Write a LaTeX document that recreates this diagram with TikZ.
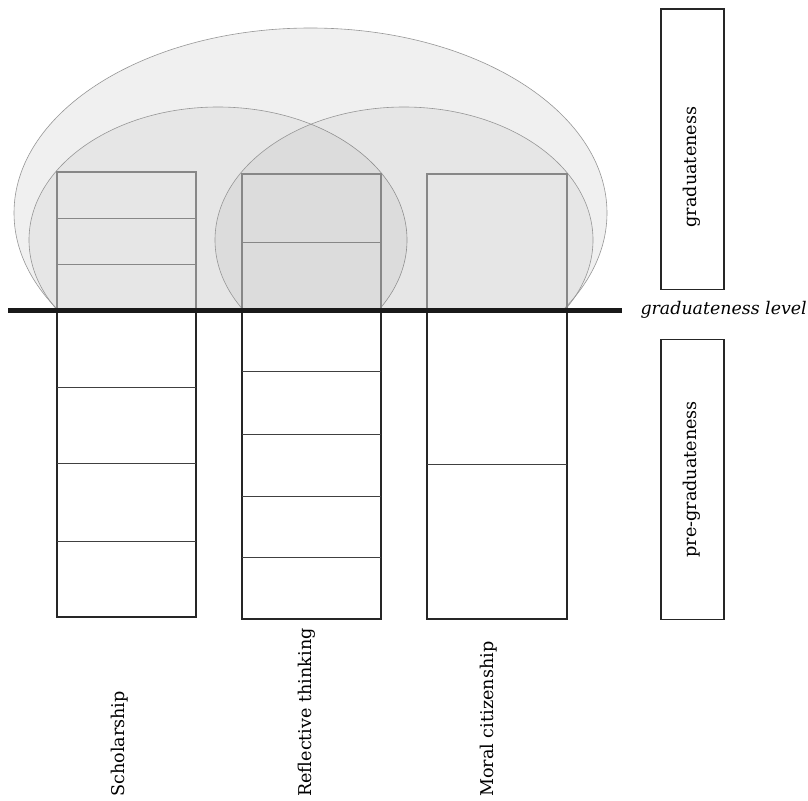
\documentclass[tikz,border=0pt]{standalone}
\usepackage{fontspec}
\setmainfont{DejaVu Serif}
\usetikzlibrary{positioning}
\definecolor{haze}{RGB}{240,240,240}
\definecolor{rimgray}{RGB}{150,150,150}
\definecolor{capgray}{RGB}{135,135,135}

\begin{document}
\begin{tikzpicture}[x=1pt, y=-1pt,
    rim/.style={draw=rimgray, line width=0.6pt},
    inner/.style={rim, fill=black, fill opacity=0.04, draw opacity=1},
    capbox/.style={draw=capgray, line width=1.3pt},
    stackbox/.style={draw=black!85, line width=1.6pt},
    rung/.style={draw=black!75, line width=0.9pt},
    capgrung/.style={draw=capgray, line width=1pt},
    sidebox/.style={draw=black!85, line width=1.6pt, rotate=90,
      minimum width=280pt, minimum height=63pt},
    sidetext/.style={rotate=90, inner sep=0pt, font=\fontsize{17.6}{21}\selectfont},
    pillar/.style={rotate=90, anchor=west, inner sep=0pt, font=\fontsize{17.6}{21}\selectfont}]
  \useasboundingbox (0,0) rectangle (808,800);

  % the three domes, cut off at the level line
  \begin{scope}
    \clip (0,0) rectangle (808,310);
    \fill[haze] (310.5,213) ellipse [x radius=296.5pt, y radius=185pt];
    \draw[rim] (310.5,213) ellipse [x radius=296.5pt, y radius=185pt];
    \draw[inner] (218,240) ellipse [x radius=189pt, y radius=133pt];
    \draw[inner] (404,240) ellipse [x radius=189pt, y radius=133pt];
  \end{scope}

  % upper parts of the columns
  \draw[capbox] (57,310) -- (57,172) -- (196,172) -- (196,310);
  \foreach \y in {218,264}
    \draw[capgrung] (57,\y) -- (196,\y);
  \draw[capbox] (242,310) -- (242,174) -- (381,174) -- (381,310);
  \draw[capgrung] (242,242) -- (381,242);
  \draw[capbox] (427,310) -- (427,174) -- (567,174) -- (567,310);

  % lower parts of the columns
  \draw[stackbox] (57,310) rectangle (196,617);
  \foreach \y in {387,463,541}
    \draw[rung] (57,\y) -- (196,\y);
  \draw[stackbox] (242,310) rectangle (381,619);
  \foreach \y in {371,434,496,557}
    \draw[rung] (242,\y) -- (381,\y);
  \draw[stackbox] (427,310) rectangle (567,619);
  \draw[rung] (427,464) -- (567,464);

  % level line
  \coordinate (lvlL) at (8,310);
  \coordinate (lvlR) at (622,310);
  \draw[line width=5pt, black!90] (lvlL) -- (lvlR);
  \node (lvltext) [right=15pt of lvlR, font=\fontsize{17.4}{21}\selectfont\itshape] {graduateness level};

  % side boxes
  \node[sidebox] (grad) at (692.2,149.3) {};
  \node[sidebox] (pregrad) at (692.2,479.3) {};
  \node[sidetext] (gradtext) at (691.5,167) {graduateness};
  \node[sidetext] (pregradtext) at (pregrad.center) {pre-graduateness};

  % column names
  \node[pillar] (schol) at (120,797) {Scholarship};
  \node[pillar] (refl) at (307,797) {Reflective thinking};
  \node[pillar] (moral) at (489,797) {Moral citizenship};
\end{tikzpicture}
\end{document}
